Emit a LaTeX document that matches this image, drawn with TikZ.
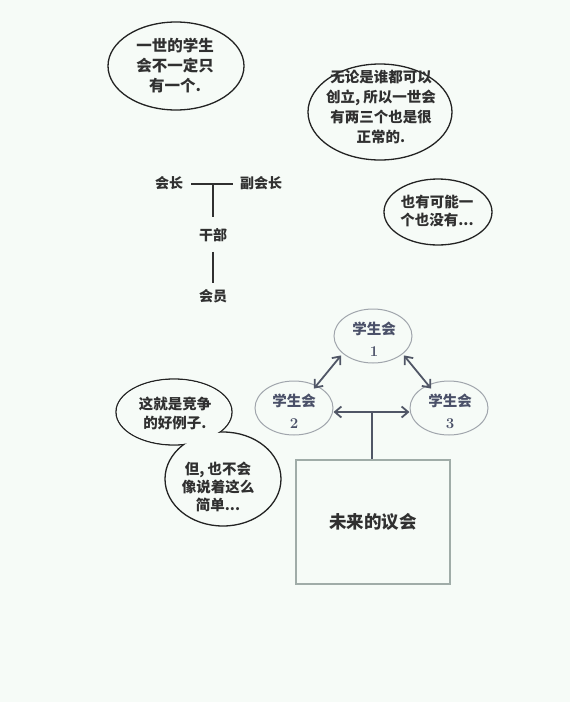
\documentclass[tikz,border=0pt]{standalone}
\usepackage{fontspec}
\newfontfamily\cjk{Noto Sans CJK SC}
\usetikzlibrary{arrows.meta,calc,shapes.geometric}
\definecolor{bgc}{RGB}{246,251,247}
\definecolor{ink}{RGB}{48,48,48}
\definecolor{bline}{RGB}{35,35,35}
\definecolor{ctext}{RGB}{74,80,104}
\definecolor{cline}{RGB}{160,165,172}
\definecolor{arr}{RGB}{80,86,102}
\definecolor{boxline}{RGB}{160,172,168}
\begin{document}
\begin{tikzpicture}[x=1pt,y=-1pt,
  bubble/.style={ellipse,draw=bline,line width=1.3pt,fill=bgc,inner sep=0pt},
  btext/.style={align=center,text=ink,inner sep=0pt,font=\cjk\bfseries\fontsize{14}{19}\selectfont},
  council/.style={ellipse,draw=cline,line width=1pt,inner sep=0pt,minimum width=78pt,minimum height=54pt},
  ctxt/.style={align=center,inner sep=0pt,text=ctext,font=\cjk\bfseries\fontsize{14.5}{22}\selectfont},
  tlabel/.style={inner sep=0pt,text=ink,font=\cjk\bfseries\fontsize{14}{16}\selectfont},
  tline/.style={draw=ink,line width=1.2pt},
  carrow/.style={draw=arr,line width=1.8pt,{Straight Barb[length=6.5pt,width=11pt]}-{Straight Barb[length=6.5pt,width=11pt]}}
]
\fill[bgc] (0,0) rectangle (570,702);
\useasboundingbox (0,0) rectangle (570,702);

% top bubbles
\node[bubble,minimum width=136pt,minimum height=88pt] (b1) at (176,66) {};
\node[btext,font=\cjk\bfseries\fontsize{15.5}{20}\selectfont] (b1t) at (175,66) {一世的学生\\会不一定只\\有一个.};
\node[bubble,minimum width=144pt,minimum height=96pt] (b2) at (380,112) {};
\node[btext,font=\cjk\bfseries\fontsize{14.5}{20}\selectfont] (b2t) at (381,107) {无论是谁都可以\\创立, 所以一世会\\有两三个也是很\\正常的.};
\node[bubble,minimum width=108pt,minimum height=66pt] (b3) at (438,212) {};
\node[btext,font=\cjk\bfseries\fontsize{14.5}{18}\selectfont] (b3t) at (437,211) {也有可能一\\个也没有...};

% tree
\node[tlabel] (hz) at (169,183) {会长};
\node[tlabel] (fhz) at (261,183) {副会长};
\node[tlabel] (gb) at (213,235) {干部};
\node[tlabel] (hy) at (213,296) {会员};
\coordinate (tj) at (213,184);
\draw[tline,shorten <=8pt,shorten >=7pt] (hz.east |- tj) -- (fhz.west |- tj);
\draw[tline,shorten >=11pt] (tj) -- (gb);
\draw[tline,shorten <=10pt,shorten >=6pt] (gb) -- (hy);

% councils
\node[council] (s1) at (373,336) {};
\node[council] (s2) at (294,408) {};
\node[council] (s3) at (449,408) {};
\node[ctxt] (s1t) at (374,339) {学生会\\{\rmfamily\bfseries\fontsize{15}{22}\selectfont 1}};
\node[ctxt] (s2t) at (294,411) {学生会\\{\rmfamily\bfseries\fontsize{15}{22}\selectfont 2}};
\node[ctxt] (s3t) at (450,411) {学生会\\{\rmfamily\bfseries\fontsize{15}{22}\selectfont 3}};
\draw[carrow] ([xshift=-4pt]s1.south west) -- ([xshift=-8pt]s2.north east);
\draw[carrow] ([xshift=3pt]s1.south east) -- ([xshift=10pt]s3.north west);
\draw[carrow] ([yshift=-4pt]s2.east) -- ([yshift=-4pt]s3.west);
\coordinate (hm) at ($([yshift=-4pt]s2.east)!0.5!([yshift=-4pt]s3.west)$);

% box
\node[draw=boxline,line width=1.2pt,minimum width=154pt,minimum height=124pt,inner sep=0pt,text=ink,font=\cjk\bfseries\fontsize{17.5}{20}\selectfont] (box) at (373,522) {未来的议会};
\draw[arr,line width=2pt] (hm) -- (hm |- box.north);

% merged speech bubble
\node[bubble,minimum width=116pt,minimum height=66pt] (ca) at (174,412) {};
\node[bubble,minimum width=116pt,minimum height=94pt] (cb) at (223,479) {};
\fill[bgc] (ca.center) ellipse [x radius=57.2pt,y radius=32.2pt];
\node[btext,font=\cjk\bfseries\fontsize{14.5}{19}\selectfont] (cat) at (175,413) {这就是竞争\\的好例子.};
\node[btext,font=\cjk\bfseries\fontsize{14.5}{18}\selectfont] (cbt) at (218,487) {但, 也不会\\像说着这么\\简单...};
\end{tikzpicture}
\end{document}
